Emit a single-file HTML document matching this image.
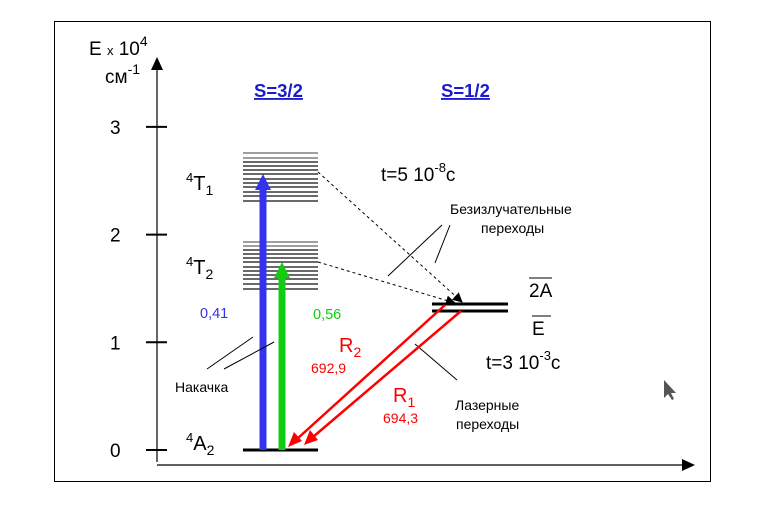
<!DOCTYPE html>
<html><head><meta charset="utf-8"><style>
body{margin:0;background:#fff}
svg text{font-family:"Liberation Sans","DejaVu Sans",sans-serif}
</style></head><body>
<svg width="778" height="500" viewBox="0 0 778 500">
<defs>
<marker id="ab" markerWidth="10" markerHeight="10" refX="9" refY="5" orient="auto" markerUnits="userSpaceOnUse"><path d="M0,0 L10,5 L0,10 Z" fill="#000"/></marker>
</defs>
<rect x="54.5" y="21.5" width="656" height="460" fill="#fff" stroke="#000"/>
<g id="axis">
<line x1="157" y1="462" x2="157" y2="66" stroke="#000" stroke-width="1.2"/>
<path d="M151,70 L157,57 L163,70 Z" fill="#000"/>
<line x1="157" y1="465" x2="684" y2="465" stroke="#000" stroke-width="1.2"/>
<path d="M682,459 L695,465 L682,471 Z" fill="#000"/>
</g>
<text x="89" y="55" font-size="19">E <tspan font-size="13">x</tspan> 10<tspan font-size="14" dy="-9">4</tspan></text>
<text x="105" y="83" font-size="19">см<tspan font-size="14" dy="-9">-1</tspan></text>
<g id="ticks"></g>
<text x="254" y="97" font-size="18.5" font-weight="bold" fill="#1a1acc" text-decoration="underline">S=3/2</text>
<text x="441" y="97" font-size="18.5" font-weight="bold" fill="#1a1acc" text-decoration="underline">S=1/2</text>
<g id="bands"></g>
<line x1="243" y1="450" x2="318" y2="450" stroke="#000" stroke-width="3"/>
<text x="186" y="190" font-size="20"><tspan font-size="13" dy="-8">4</tspan><tspan dy="8">T</tspan><tspan font-size="14" dy="5">1</tspan></text>
<text x="186" y="274" font-size="20"><tspan font-size="13" dy="-8">4</tspan><tspan dy="8">T</tspan><tspan font-size="14" dy="5">2</tspan></text>
<text x="186" y="450" font-size="20"><tspan font-size="13" dy="-8">4</tspan><tspan dy="8">A</tspan><tspan font-size="14" dy="5">2</tspan></text>
<line x1="263" y1="450" x2="263" y2="188" stroke="#3333ee" stroke-width="7"/>
<path d="M255,190 L263,174 L271,190 Z" fill="#3333ee"/>
<line x1="282" y1="450" x2="282" y2="276" stroke="#11cc11" stroke-width="7"/>
<path d="M274,278 L282,262 L290,278 Z" fill="#11cc11"/>
<text x="200" y="318" font-size="14.5" fill="#3333ee">0,41</text>
<text x="313" y="319" font-size="14.5" fill="#11cc11">0,56</text>
<line x1="432" y1="304" x2="508" y2="304" stroke="#000" stroke-width="3"/>
<line x1="432" y1="311" x2="508" y2="311" stroke="#000" stroke-width="3"/>
<text x="529" y="297" font-size="19">2A</text>
<line x1="529" y1="278" x2="552" y2="278" stroke="#000" stroke-width="1"/>
<text x="532" y="335" font-size="19">E</text>
<line x1="532" y1="316" x2="551" y2="316" stroke="#000" stroke-width="1"/>
<line x1="318" y1="172" x2="462" y2="302" stroke="#000" stroke-dasharray="3,3" marker-end="url(#ab)"/>
<line x1="318" y1="262" x2="455" y2="303" stroke="#000" stroke-dasharray="3,3" marker-end="url(#ab)"/>
<g stroke="#000" stroke-width="1">
<line x1="388" y1="276" x2="442" y2="225"/><line x1="435" y1="263" x2="450" y2="225"/>
<line x1="207" y1="369" x2="253" y2="337"/><line x1="224" y1="369" x2="274" y2="342"/>
<line x1="415" y1="344" x2="457" y2="380"/>
</g>
<line x1="445" y1="305" x2="297" y2="439" stroke="#ff0000" stroke-width="2.5"/>
<path d="M288,447 L294,432 L302,441 Z" fill="#ff0000"/>
<line x1="461" y1="311" x2="313" y2="437" stroke="#ff0000" stroke-width="2.5"/>
<path d="M304,445 L310,430 L318,440 Z" fill="#ff0000"/>
<text x="339" y="352" font-size="20" fill="#ff0000">R<tspan font-size="14" dy="5">2</tspan></text>
<text x="311" y="373" font-size="14" fill="#ff0000">692,9</text>
<text x="393" y="402" font-size="20" fill="#ff0000">R<tspan font-size="14" dy="5">1</tspan></text>
<text x="383" y="423" font-size="14" fill="#ff0000">694,3</text>
<text x="381" y="181" font-size="19">t=5 10<tspan font-size="13" dy="-9">-8</tspan><tspan dy="9">c</tspan></text>
<text x="486" y="369" font-size="19">t=3 10<tspan font-size="13" dy="-9">-3</tspan><tspan dy="9">c</tspan></text>
<text x="450" y="214" font-size="14">Безизлучательные</text>
<text x="481" y="233" font-size="14">переходы</text>
<text x="175" y="392" font-size="14">Накачка</text>
<text x="455" y="410" font-size="14">Лазерные</text>
<text x="456" y="429" font-size="14">переходы</text>
<path d="M664,380 L664,398 L668,394 L672,400 L674,399 L671,393 L676,393 Z" fill="#555"/>
</svg>
<script>
const tickValues=[0,1,2,3];
const tickLabels=["0","1","2","3"];
const bandT1=[153,158,162,166,170,174,179,183,187,192,196,201];
const bandT2=[242,246,250,254,258,262,267,271,275,279,284,289];
const NS="http://www.w3.org/2000/svg";
function yE(v){return 450-v*107.7;}
const tg=document.getElementById('ticks');
tickValues.forEach((v,i)=>{
 const l=document.createElementNS(NS,'line');
 l.setAttribute('x1',146);l.setAttribute('x2',167);l.setAttribute('y1',yE(v));l.setAttribute('y2',yE(v));
 l.setAttribute('stroke','#000');l.setAttribute('stroke-width','2');
 
 
 tg.appendChild(l);
 const t=document.createElementNS(NS,'text');
 t.setAttribute('x',110);t.setAttribute('y',yE(v)+7);t.setAttribute('font-size','19');
 t.textContent=tickLabels[i];
 
 
 tg.appendChild(t);
});
const bg=document.getElementById('bands');
[bandT1,bandT2].forEach((arr,bi)=>arr.forEach((y,i)=>{
 const l=document.createElementNS(NS,'line');
 l.setAttribute('x1',243);l.setAttribute('x2',318);l.setAttribute('y1',y);l.setAttribute('y2',y);
 l.setAttribute('stroke',i<2?'#666':'#111');l.setAttribute('stroke-width','1.3');
 
 
 bg.appendChild(l);
}));
</script>
</body></html>
